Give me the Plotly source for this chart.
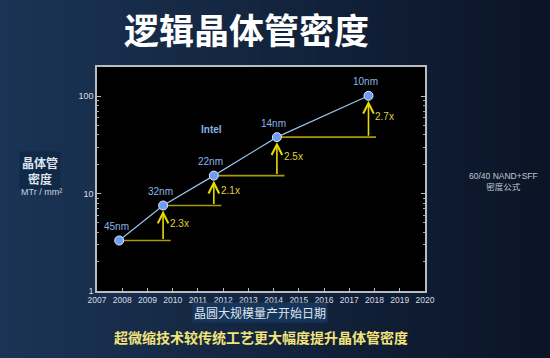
import math
import plotly.graph_objects as go

# ---- data ----
years = [2007.88, 2009.62, 2011.63, 2014.13, 2017.76]
density = [3.3, 7.55, 15.3, 38, 101]
nodes = ["45nm", "32nm", "22nm", "14nm", "10nm"]
ratios = ["2.3x", "2.1x", "2.5x", "2.7x"]
x_ticks = list(range(2007, 2021))
y_ticks = [1, 10, 100]

FONT = "Liberation Sans, Noto Sans CJK SC, sans-serif"
CJK = "Noto Sans CJK SC, sans-serif"

fig = go.Figure()

# horizontal baselines
for i in range(len(years) - 1):
    fig.add_trace(go.Scatter(
        x=[years[i], years[i + 1] + 0.3], y=[density[i], density[i]],
        mode="lines", line=dict(color="#a89c00", width=1.6),
        hoverinfo="skip", showlegend=False))

fig.add_trace(go.Scatter(
    x=years, y=density, mode="lines+markers",
    line=dict(color="#9cc2ee", width=1.2),
    marker=dict(size=9, color="#6e9cf2", line=dict(color="#dfe8ff", width=1)),
    showlegend=False, hoverinfo="skip"))

ann = []
for i in range(len(years) - 1):
    y0 = math.log10(density[i])
    y1 = math.log10(density[i + 1])
    ann.append(dict(x=years[i + 1], y=y1, ax=years[i + 1], ay=y0,
                    xref="x", yref="y", axref="x", ayref="y",
                    showarrow=True, arrowhead=5, arrowsize=1.3, arrowwidth=1.6,
                    arrowcolor="#e6da00", standoff=5, text=""))
    ann.append(dict(x=years[i + 1], y=(y0 + y1) / 2, xref="x", yref="y",
                    text=ratios[i], showarrow=False, xanchor="left", xshift=5,
                    font=dict(family=FONT, size=10, color="#e0d23a")))

for i in range(len(years)):
    ann.append(dict(x=years[i], y=math.log10(density[i]), xref="x", yref="y",
                    text=nodes[i], showarrow=False, yshift=14, xshift=-3,
                    font=dict(family=FONT, size=10, color="#8ab4e8")))

ann.append(dict(x=2011.55, y=math.log10(45), xref="x", yref="y", text="<b>Intel</b>",
                showarrow=False, font=dict(family=FONT, size=10, color="#8ab4e8")))


def paper_text(x, y, text, font, **kw):
    d = dict(x=x, y=y, xref="paper", yref="paper", text=text, showarrow=False,
             xanchor="center", yanchor="middle", font=font)
    d.update(kw)
    return d


# titles and side texts
ann += [
    paper_text(0.457, 1.174, "<b>逻辑晶体管密度</b>",
               dict(family=CJK, size=35, color="#ffffff")),
    paper_text(-0.174, 0.54, "<b>晶体管<br>密度</b>",
               dict(family=CJK, size=12, color="#dde4ee"),
               bgcolor="#0f2947", borderpad=2),
    paper_text(-0.168, 0.443, "MTr / mm²",
               dict(family=FONT, size=9, color="#c8d0dc")),
    paper_text(0.497, -0.097, "晶圆大规模量产开始日期",
               dict(family=CJK, size=12, color="#dfe4ec"),
               bgcolor="#15355a", borderpad=1),
    paper_text(0.5, -0.205, "<b>超微缩技术较传统工艺更大幅度提升晶体管密度</b>",
               dict(family=CJK, size=14, color="#f2e47a")),
    paper_text(1.238, 0.487, "60/40 NAND+SFF<br>密度公式",
               dict(family=FONT, size=8.5, color="#c0c6d0")),
]

# background gradient strips
shapes = []
N = 40
PW, L = 328, 97
top_c = (0x1b, 0x34, 0x55)
end_c = (0x0b, 0x15, 0x27)
for k in range(N):
    t = k / (N - 1)
    c = tuple(int(top_c[j] + (end_c[j] - top_c[j]) * t) for j in range(3))
    x0 = (-L + k * 550 / N) / PW
    x1 = (-L + (k + 1) * 550 / N + 1) / PW
    shapes.append(dict(type="rect", xref="paper", yref="paper", x0=x0, x1=x1,
                       y0=-0.4, y1=1.4, fillcolor="rgb(%d,%d,%d)" % c,
                       line=dict(width=0), layer="below"))
shapes.append(dict(type="rect", xref="paper", yref="paper", x0=0, x1=1, y0=0, y1=1,
                   fillcolor="#000000", line=dict(width=0), layer="below"))

fig.update_layout(
    width=550, height=358,
    margin=dict(l=97, r=125, t=67, b=67),
    paper_bgcolor="#13263f", plot_bgcolor="#000000",
    annotations=ann, shapes=shapes,
    font=dict(family=FONT),
    xaxis=dict(range=[2007, 2020], tickvals=x_ticks, ticktext=[str(v) for v in x_ticks],
               showgrid=False, zeroline=False, showline=True, linecolor="#b8bcc4",
               linewidth=1.5, mirror=True, ticks="inside", ticklen=3, tickcolor="#b8bcc4",
               tickfont=dict(family=FONT, size=8.5, color="#d8dce4")),
    yaxis=dict(type="log", range=[0, 2.3], tickvals=y_ticks,
               ticktext=[str(v) for v in y_ticks],
               showgrid=False, zeroline=False, showline=True, linecolor="#b8bcc4",
               linewidth=1.5, mirror="ticks", ticks="inside", ticklen=4, tickcolor="#b8bcc4",
               minor=dict(ticks="inside", ticklen=2.5, tickcolor="#a0a4ac", dtick="D1",
                          showgrid=False),
               tickfont=dict(family=FONT, size=9, color="#d8dce4")),
)

fig.write_html("out.html", config={"displayModeBar": False},
               post_script="document.body.style.margin='0';")
